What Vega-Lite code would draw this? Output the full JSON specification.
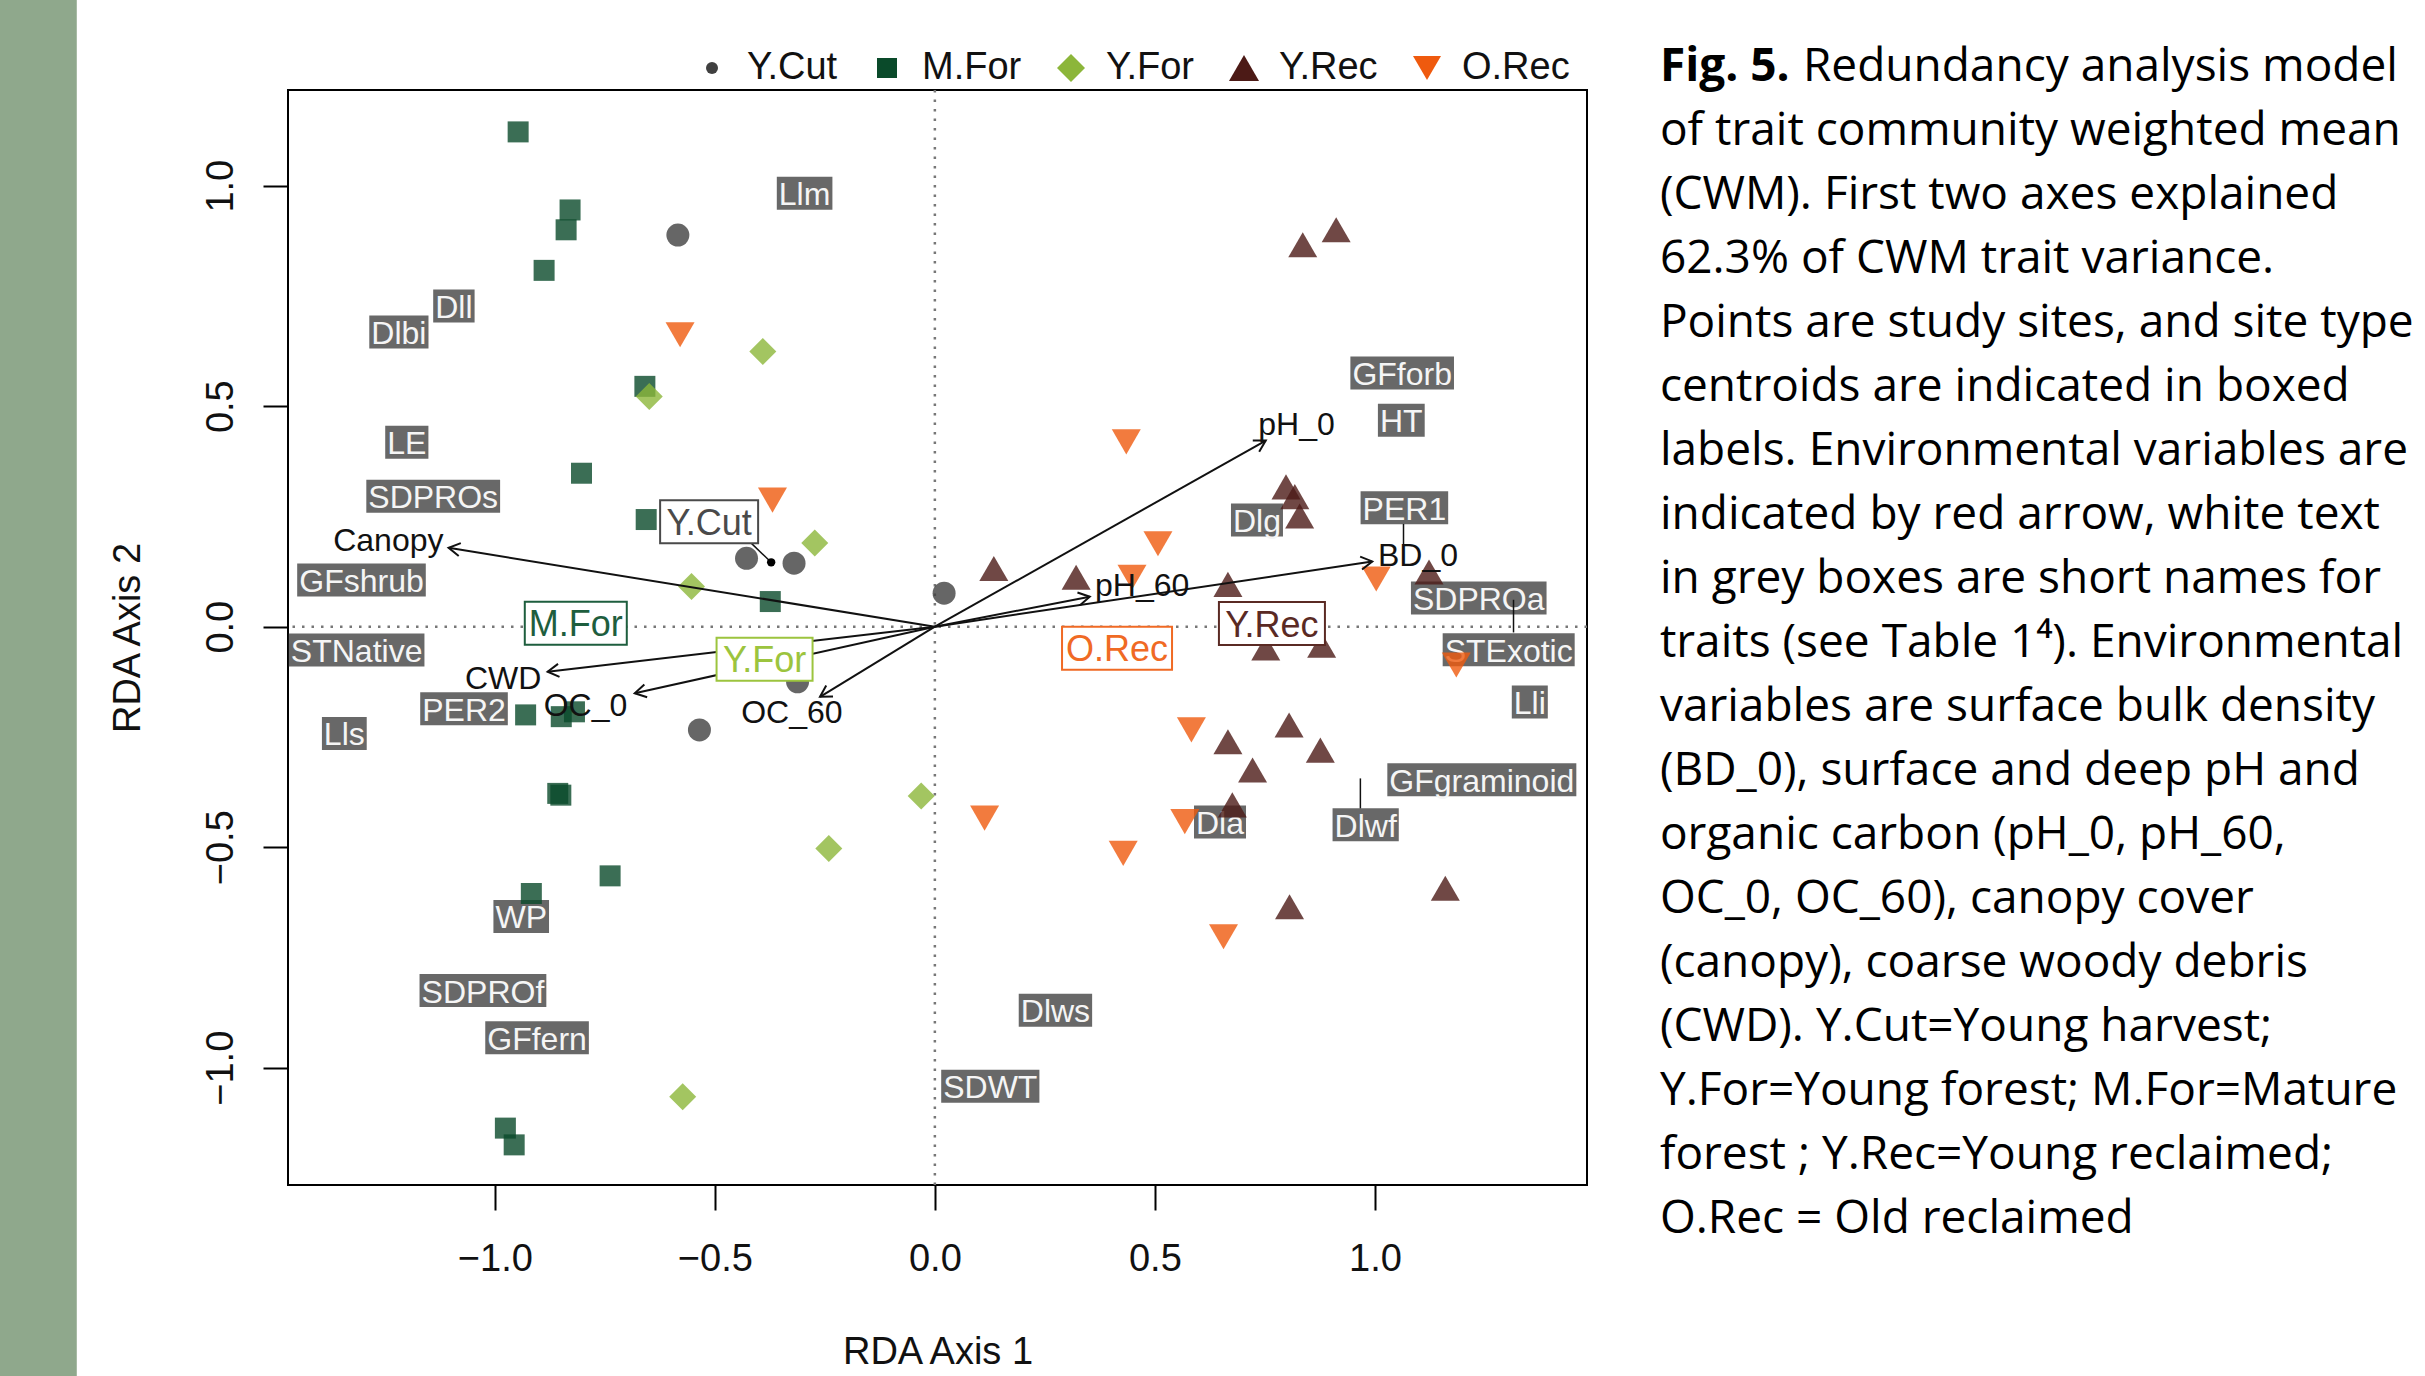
{
  "$schema": "https://vega.github.io/schema/vega-lite/v6.json",
  "width": 1299,
  "height": 1095,
  "autosize": {"type": "none"},
  "padding": {"left": 288, "top": 90, "right": 838, "bottom": 191},
  "background": "white",
  "config": {
    "view": {"stroke": "#000", "strokeWidth": 2},
    "font": "Liberation Sans",
    "axis": {
      "grid": false, "domain": false, "ticks": true, "tickSize": 25, "tickWidth": 2, "tickColor": "#000",
      "labelFont": "Liberation Sans", "labelFontSize": 38, "labelColor": "#111", "labelFlush": false, "labelOverlap": false,
      "titleFont": "Liberation Sans", "titleFontSize": 38, "titleFontWeight": "normal", "titleColor": "#111"
    }
  },
  "datasets": {
    "one": [{}],
    "sites": [
      {"g": "Y.Cut", "x": -0.584, "y": 0.888}, {"g": "Y.Cut", "x": -0.428, "y": 0.155}, {"g": "Y.Cut", "x": -0.320, "y": 0.144},
      {"g": "Y.Cut", "x": 0.021, "y": 0.076}, {"g": "Y.Cut", "x": -0.312, "y": -0.125}, {"g": "Y.Cut", "x": -0.535, "y": -0.234},
      {"g": "M.For", "x": -0.947, "y": 1.122}, {"g": "M.For", "x": -0.829, "y": 0.945}, {"g": "M.For", "x": -0.838, "y": 0.900},
      {"g": "M.For", "x": -0.888, "y": 0.808}, {"g": "M.For", "x": -0.659, "y": 0.545}, {"g": "M.For", "x": -0.803, "y": 0.348},
      {"g": "M.For", "x": -0.656, "y": 0.243}, {"g": "M.For", "x": -0.374, "y": 0.057}, {"g": "M.For", "x": -0.930, "y": -0.200},
      {"g": "M.For", "x": -0.849, "y": -0.204}, {"g": "M.For", "x": -0.819, "y": -0.193}, {"g": "M.For", "x": -0.857, "y": -0.378},
      {"g": "M.For", "x": -0.850, "y": -0.382}, {"g": "M.For", "x": -0.738, "y": -0.565}, {"g": "M.For", "x": -0.917, "y": -0.605},
      {"g": "M.For", "x": -0.976, "y": -1.137}, {"g": "M.For", "x": -0.956, "y": -1.175},
      {"g": "Y.For", "x": -0.391, "y": 0.624}, {"g": "Y.For", "x": -0.649, "y": 0.522}, {"g": "Y.For", "x": -0.273, "y": 0.190},
      {"g": "Y.For", "x": -0.553, "y": 0.091}, {"g": "Y.For", "x": -0.031, "y": -0.384}, {"g": "Y.For", "x": -0.241, "y": -0.503},
      {"g": "Y.For", "x": -0.573, "y": -1.066},
      {"g": "Y.Rec", "x": 0.836, "y": 0.866}, {"g": "Y.Rec", "x": 0.912, "y": 0.900}, {"g": "Y.Rec", "x": 0.798, "y": 0.317},
      {"g": "Y.Rec", "x": 0.818, "y": 0.295}, {"g": "Y.Rec", "x": 0.829, "y": 0.251}, {"g": "Y.Rec", "x": 0.134, "y": 0.132},
      {"g": "Y.Rec", "x": 0.321, "y": 0.112}, {"g": "Y.Rec", "x": 0.666, "y": 0.096}, {"g": "Y.Rec", "x": 1.123, "y": 0.124},
      {"g": "Y.Rec", "x": 0.752, "y": -0.048}, {"g": "Y.Rec", "x": 0.879, "y": -0.042}, {"g": "Y.Rec", "x": 0.805, "y": -0.223},
      {"g": "Y.Rec", "x": 0.666, "y": -0.261}, {"g": "Y.Rec", "x": 0.876, "y": -0.280}, {"g": "Y.Rec", "x": 0.722, "y": -0.325},
      {"g": "Y.Rec", "x": 0.676, "y": -0.404}, {"g": "Y.Rec", "x": 1.160, "y": -0.593}, {"g": "Y.Rec", "x": 0.806, "y": -0.635},
      {"g": "O.Rec", "x": -0.579, "y": 0.662}, {"g": "O.Rec", "x": -0.369, "y": 0.287}, {"g": "O.Rec", "x": 0.435, "y": 0.419},
      {"g": "O.Rec", "x": 0.507, "y": 0.188}, {"g": "O.Rec", "x": 0.448, "y": 0.112}, {"g": "O.Rec", "x": 1.003, "y": 0.108},
      {"g": "O.Rec", "x": 1.185, "y": -0.087}, {"g": "O.Rec", "x": 0.583, "y": -0.234}, {"g": "O.Rec", "x": 0.113, "y": -0.434},
      {"g": "O.Rec", "x": 0.568, "y": -0.442}, {"g": "O.Rec", "x": 0.428, "y": -0.514}, {"g": "O.Rec", "x": 0.656, "y": -0.703}
    ],
    "traits": [
      {"label": "Llm", "x": -0.296, "y": 0.983}, {"label": "Dll", "x": -1.093, "y": 0.727}, {"label": "Dlbi", "x": -1.218, "y": 0.668},
      {"label": "LE", "x": -1.200, "y": 0.418}, {"label": "SDPROs", "x": -1.140, "y": 0.296}, {"label": "GFshrub", "x": -1.303, "y": 0.106},
      {"label": "STNative", "x": -1.314, "y": -0.053}, {"label": "PER2", "x": -1.070, "y": -0.186}, {"label": "Lls", "x": -1.342, "y": -0.242},
      {"label": "WP", "x": -0.940, "y": -0.657}, {"label": "SDPROf", "x": -1.027, "y": -0.825}, {"label": "GFfern", "x": -0.904, "y": -0.932},
      {"label": "Dlws", "x": 0.274, "y": -0.870}, {"label": "SDWT", "x": 0.126, "y": -1.042}, {"label": "Dla", "x": 0.648, "y": -0.443},
      {"label": "Dlwf", "x": 0.979, "y": -0.449}, {"label": "GFgraminoid", "x": 1.243, "y": -0.347}, {"label": "Lli", "x": 1.352, "y": -0.171},
      {"label": "STExotic", "x": 1.304, "y": -0.052}, {"label": "SDPROa", "x": 1.236, "y": 0.065}, {"label": "PER1", "x": 1.067, "y": 0.270},
      {"label": "HT", "x": 1.060, "y": 0.468}, {"label": "GFforb", "x": 1.062, "y": 0.575}, {"label": "Dlg", "x": 0.732, "y": 0.242}
    ],
    "env": [
      {"var": "Canopy", "x": -1.105, "y": 0.179}, {"var": "CWD", "x": -0.880, "y": -0.102}, {"var": "OC_0", "x": -0.682, "y": -0.151},
      {"var": "OC_60", "x": -0.261, "y": -0.159}, {"var": "pH_0", "x": 0.752, "y": 0.422}, {"var": "pH_60", "x": 0.352, "y": 0.068},
      {"var": "BD_0", "x": 0.994, "y": 0.148}
    ],
    "envlab": [
      {"var": "Canopy", "x": -1.242, "y": 0.199}, {"var": "CWD", "x": -0.981, "y": -0.115}, {"var": "OC_0", "x": -0.794, "y": -0.176},
      {"var": "OC_60", "x": -0.325, "y": -0.192}, {"var": "pH_0", "x": 0.822, "y": 0.461}, {"var": "pH_60", "x": 0.471, "y": 0.096},
      {"var": "BD_0", "x": 1.098, "y": 0.164}
    ],
    "cent": [
      {"g": "Y.Cut", "x": -0.513, "y": 0.238}, {"g": "M.For", "x": -0.816, "y": 0.008}, {"g": "Y.For", "x": -0.387, "y": -0.074},
      {"g": "Y.Rec", "x": 0.766, "y": 0.007}, {"g": "O.Rec", "x": 0.414, "y": -0.049}
    ],
    "ycutdot": [{"x": -0.372, "y": 0.146}],
    "leaders": [
      {"x": -0.418, "y": 0.190, "x2": -0.372, "y2": 0.146},
      {"x": 1.065, "y": 0.233, "x2": 1.065, "y2": 0.186},
      {"x": 1.315, "y": 0.061, "x2": 1.315, "y2": -0.013},
      {"x": 0.967, "y": -0.344, "x2": 0.967, "y2": -0.412}
    ]
  },
  "layer": [
    {
      "data": {"name": "one"},
      "mark": {"type": "rect", "color": "#8fa88c"},
      "encoding": {
        "x": {"datum": -2.3, "type": "quantitative", "scale": {"domain": [-1.47, 1.482], "nice": false, "zero": false}, "axis": {"title": "RDA Axis 1", "values": [-1, -0.5, 0, 0.5, 1], "format": ".1f", "labelPadding": 30, "titlePadding": 55}},
        "x2": {"datum": -1.95},
        "y": {"datum": 1.6, "type": "quantitative", "scale": {"domain": [-1.266, 1.217], "nice": false, "zero": false}, "axis": {"title": "RDA Axis 2", "values": [-1, -0.5, 0, 0.5, 1], "format": ".1f", "labelAngle": 270, "labelAlign": "center", "labelBaseline": "bottom", "labelPadding": 23, "titlePadding": 55}},
        "y2": {"datum": -1.9}
      }
    },
    {
      "data": {"name": "one"},
      "mark": {"type": "rule", "color": "#777", "strokeWidth": 2.5, "strokeDash": [2.5, 7]},
      "encoding": {
        "x": {"datum": 0, "type": "quantitative", "scale": {"domain": [-1.47, 1.482], "nice": false, "zero": false}, "axis": {"title": "RDA Axis 1", "values": [-1, -0.5, 0, 0.5, 1], "format": ".1f", "labelPadding": 30, "titlePadding": 55}}
      }
    },
    {
      "data": {"name": "one"},
      "mark": {"type": "rule", "color": "#777", "strokeWidth": 2.5, "strokeDash": [2.5, 7]},
      "encoding": {
        "y": {"datum": 0, "type": "quantitative", "scale": {"domain": [-1.266, 1.217], "nice": false, "zero": false}, "axis": {"title": "RDA Axis 2", "values": [-1, -0.5, 0, 0.5, 1], "format": ".1f", "labelAngle": 270, "labelAlign": "center", "labelBaseline": "bottom", "labelPadding": 23, "titlePadding": 55}}
      }
    },
    {
      "data": {"name": "traits"},
      "mark": {"type": "point", "filled": true, "opacity": 1, "size": 4, "color": "#686868", "strokeWidth": 0},
      "encoding": {
        "x": {"field": "x", "type": "quantitative", "scale": {"domain": [-1.47, 1.482], "nice": false, "zero": false}, "axis": {"title": "RDA Axis 1", "values": [-1, -0.5, 0, 0.5, 1], "format": ".1f", "labelPadding": 30, "titlePadding": 55}},
        "y": {"field": "y", "type": "quantitative", "scale": {"domain": [-1.266, 1.217], "nice": false, "zero": false}, "axis": {"title": "RDA Axis 2", "values": [-1, -0.5, 0, 0.5, 1], "format": ".1f", "labelAngle": 270, "labelAlign": "center", "labelBaseline": "bottom", "labelPadding": 23, "titlePadding": 55}},
        "shape": {
          "field": "label", "type": "nominal", "legend": null,
          "scale": {
            "domain": ["Llm", "Dll", "Dlbi", "LE", "SDPROs", "GFshrub", "STNative", "PER2", "Lls", "WP", "SDPROf", "GFfern", "Dlws", "SDWT", "Dla", "Dlwf", "GFgraminoid", "Lli", "STExotic", "SDPROa", "PER1", "HT", "GFforb", "Dlg"],
            "range": [
              "M-27.8,-16.5H27.8V16.5H-27.8Z", "M-20.7,-16.5H20.7V16.5H-20.7Z", "M-29.6,-16.5H29.6V16.5H-29.6Z", "M-21.6,-16.5H21.6V16.5H-21.6Z",
              "M-66.9,-16.5H66.9V16.5H-66.9Z", "M-64.3,-16.5H64.3V16.5H-64.3Z", "M-67.8,-16.5H67.8V16.5H-67.8Z", "M-43.8,-16.5H43.8V16.5H-43.8Z",
              "M-22.4,-16.5H22.4V16.5H-22.4Z", "M-27.8,-16.5H27.8V16.5H-27.8Z", "M-63.4,-16.5H63.4V16.5H-63.4Z", "M-51.8,-16.5H51.8V16.5H-51.8Z",
              "M-36.7,-16.5H36.7V16.5H-36.7Z", "M-49.1,-16.5H49.1V16.5H-49.1Z", "M-26,-16.5H26V16.5H-26Z", "M-33.1,-16.5H33.1V16.5H-33.1Z",
              "M-94.5,-16.5H94.5V16.5H-94.5Z", "M-18,-16.5H18V16.5H-18Z", "M-66,-16.5H66V16.5H-66Z", "M-67.8,-16.5H67.8V16.5H-67.8Z",
              "M-43.8,-16.5H43.8V16.5H-43.8Z", "M-23.4,-16.5H23.4V16.5H-23.4Z", "M-51.8,-16.5H51.8V16.5H-51.8Z", "M-26,-16.5H26V16.5H-26Z"
            ]
          }
        }
      }
    },
    {
      "data": {"name": "traits"},
      "mark": {"type": "text", "font": "Liberation Sans", "fontSize": 32, "color": "#f5f5f5", "align": "center", "baseline": "middle", "dy": 2},
      "encoding": {
        "x": {"field": "x", "type": "quantitative", "scale": {"domain": [-1.47, 1.482], "nice": false, "zero": false}, "axis": {"title": "RDA Axis 1", "values": [-1, -0.5, 0, 0.5, 1], "format": ".1f", "labelPadding": 30, "titlePadding": 55}},
        "y": {"field": "y", "type": "quantitative", "scale": {"domain": [-1.266, 1.217], "nice": false, "zero": false}, "axis": {"title": "RDA Axis 2", "values": [-1, -0.5, 0, 0.5, 1], "format": ".1f", "labelAngle": 270, "labelAlign": "center", "labelBaseline": "bottom", "labelPadding": 23, "titlePadding": 55}},
        "text": {"field": "label", "type": "nominal"}
      }
    },
    {
      "data": {"name": "leaders"},
      "mark": {"type": "rule", "color": "#111", "strokeWidth": 1.5},
      "encoding": {
        "x": {"field": "x", "type": "quantitative", "scale": {"domain": [-1.47, 1.482], "nice": false, "zero": false}, "axis": {"title": "RDA Axis 1", "values": [-1, -0.5, 0, 0.5, 1], "format": ".1f", "labelPadding": 30, "titlePadding": 55}},
        "y": {"field": "y", "type": "quantitative", "scale": {"domain": [-1.266, 1.217], "nice": false, "zero": false}, "axis": {"title": "RDA Axis 2", "values": [-1, -0.5, 0, 0.5, 1], "format": ".1f", "labelAngle": 270, "labelAlign": "center", "labelBaseline": "bottom", "labelPadding": 23, "titlePadding": 55}},
        "x2": {"field": "x2"},
        "y2": {"field": "y2"}
      }
    },
    {
      "data": {"name": "sites"},
      "mark": {"type": "point", "filled": true, "opacity": 0.8, "strokeWidth": 0},
      "encoding": {
        "x": {"field": "x", "type": "quantitative", "scale": {"domain": [-1.47, 1.482], "nice": false, "zero": false}, "axis": {"title": "RDA Axis 1", "values": [-1, -0.5, 0, 0.5, 1], "format": ".1f", "labelPadding": 30, "titlePadding": 55}},
        "y": {"field": "y", "type": "quantitative", "scale": {"domain": [-1.266, 1.217], "nice": false, "zero": false}, "axis": {"title": "RDA Axis 2", "values": [-1, -0.5, 0, 0.5, 1], "format": ".1f", "labelAngle": 270, "labelAlign": "center", "labelBaseline": "bottom", "labelPadding": 23, "titlePadding": 55}},
        "color": {"field": "g", "type": "nominal", "legend": null, "scale": {"domain": ["Y.Cut", "M.For", "Y.For", "Y.Rec", "O.Rec"], "range": ["#404040", "#0a4a2a", "#8cb63a", "#4c1a16", "#ef5a0e"]}},
        "shape": {"field": "g", "type": "nominal", "legend": null, "scale": {"domain": ["Y.Cut", "M.For", "Y.For", "Y.Rec", "O.Rec"], "range": ["circle", "square", "diamond", "triangle-up", "triangle-down"]}},
        "size": {"field": "g", "type": "nominal", "legend": null, "scale": {"type": "ordinal", "domain": ["Y.Cut", "M.For", "Y.For", "Y.Rec", "O.Rec"], "range": [529, 441, 729, 841, 841]}}
      }
    },
    {
      "data": {"name": "ycutdot"},
      "mark": {"type": "point", "filled": true, "color": "#000", "size": 70, "opacity": 1, "strokeWidth": 0},
      "encoding": {
        "x": {"field": "x", "type": "quantitative", "scale": {"domain": [-1.47, 1.482], "nice": false, "zero": false}, "axis": {"title": "RDA Axis 1", "values": [-1, -0.5, 0, 0.5, 1], "format": ".1f", "labelPadding": 30, "titlePadding": 55}},
        "y": {"field": "y", "type": "quantitative", "scale": {"domain": [-1.266, 1.217], "nice": false, "zero": false}, "axis": {"title": "RDA Axis 2", "values": [-1, -0.5, 0, 0.5, 1], "format": ".1f", "labelAngle": 270, "labelAlign": "center", "labelBaseline": "bottom", "labelPadding": 23, "titlePadding": 55}}
      }
    },
    {
      "data": {"name": "env"},
      "mark": {"type": "rule", "color": "#111", "strokeWidth": 2},
      "encoding": {
        "x": {"field": "x", "type": "quantitative", "scale": {"domain": [-1.47, 1.482], "nice": false, "zero": false}, "axis": {"title": "RDA Axis 1", "values": [-1, -0.5, 0, 0.5, 1], "format": ".1f", "labelPadding": 30, "titlePadding": 55}},
        "y": {"field": "y", "type": "quantitative", "scale": {"domain": [-1.266, 1.217], "nice": false, "zero": false}, "axis": {"title": "RDA Axis 2", "values": [-1, -0.5, 0, 0.5, 1], "format": ".1f", "labelAngle": 270, "labelAlign": "center", "labelBaseline": "bottom", "labelPadding": 23, "titlePadding": 55}},
        "x2": {"datum": 0},
        "y2": {"datum": 0}
      }
    },
    {
      "data": {"name": "env"},
      "mark": {"type": "point", "filled": false, "size": 4, "color": "#111", "strokeWidth": 2, "opacity": 1},
      "encoding": {
        "x": {"field": "x", "type": "quantitative", "scale": {"domain": [-1.47, 1.482], "nice": false, "zero": false}, "axis": {"title": "RDA Axis 1", "values": [-1, -0.5, 0, 0.5, 1], "format": ".1f", "labelPadding": 30, "titlePadding": 55}},
        "y": {"field": "y", "type": "quantitative", "scale": {"domain": [-1.266, 1.217], "nice": false, "zero": false}, "axis": {"title": "RDA Axis 2", "values": [-1, -0.5, 0, 0.5, 1], "format": ".1f", "labelAngle": 270, "labelAlign": "center", "labelBaseline": "bottom", "labelPadding": 23, "titlePadding": 55}},
        "shape": {
          "field": "var", "type": "nominal", "legend": null,
          "scale": {
            "domain": ["Canopy", "CWD", "OC_0", "OC_60", "pH_0", "pH_60", "BD_0"],
            "range": ["M10.1,8.2L0,0L12.2,-4.6", "M11.9,5.2L0,0L10.4,-7.8", "M12.4,3.9L0,0L9.6,-8.8", "M13,-0.3L0,0L6.2,-11.4", "M-13,-0.1L0,0L-6.6,11.2", "M-12.3,-4.2L0,0L-9.8,8.5", "M-12.1,-4.8L0,0L-10.2,8.1"]
          }
        }
      }
    },
    {
      "data": {"name": "envlab"},
      "mark": {"type": "text", "font": "Liberation Sans", "fontSize": 32, "color": "#111", "align": "center", "baseline": "middle", "dy": 2},
      "encoding": {
        "x": {"field": "x", "type": "quantitative", "scale": {"domain": [-1.47, 1.482], "nice": false, "zero": false}, "axis": {"title": "RDA Axis 1", "values": [-1, -0.5, 0, 0.5, 1], "format": ".1f", "labelPadding": 30, "titlePadding": 55}},
        "y": {"field": "y", "type": "quantitative", "scale": {"domain": [-1.266, 1.217], "nice": false, "zero": false}, "axis": {"title": "RDA Axis 2", "values": [-1, -0.5, 0, 0.5, 1], "format": ".1f", "labelAngle": 270, "labelAlign": "center", "labelBaseline": "bottom", "labelPadding": 23, "titlePadding": 55}},
        "text": {"field": "var", "type": "nominal"}
      }
    },
    {
      "data": {"name": "cent"},
      "mark": {"type": "point", "filled": true, "fill": "white", "size": 4, "strokeWidth": 2, "opacity": 1},
      "encoding": {
        "x": {"field": "x", "type": "quantitative", "scale": {"domain": [-1.47, 1.482], "nice": false, "zero": false}, "axis": {"title": "RDA Axis 1", "values": [-1, -0.5, 0, 0.5, 1], "format": ".1f", "labelPadding": 30, "titlePadding": 55}},
        "y": {"field": "y", "type": "quantitative", "scale": {"domain": [-1.266, 1.217], "nice": false, "zero": false}, "axis": {"title": "RDA Axis 2", "values": [-1, -0.5, 0, 0.5, 1], "format": ".1f", "labelAngle": 270, "labelAlign": "center", "labelBaseline": "bottom", "labelPadding": 23, "titlePadding": 55}},
        "shape": {"field": "g", "type": "nominal", "legend": null, "scale": {"domain": ["Y.Cut", "M.For", "Y.For", "Y.Rec", "O.Rec"], "range": ["M-49,-21.5H49V21.5H-49Z", "M-51,-21.5H51V21.5H-51Z", "M-48,-21.5H48V21.5H-48Z", "M-53,-21.5H53V21.5H-53Z", "M-55,-21.5H55V21.5H-55Z"]}},
        "stroke": {"field": "g", "type": "nominal", "legend": null, "scale": {"domain": ["Y.Cut", "M.For", "Y.For", "Y.Rec", "O.Rec"], "range": ["#4a4a4a", "#1e5e3e", "#9cc43e", "#5a2a24", "#f06a24"]}}
      }
    },
    {
      "data": {"name": "cent"},
      "mark": {"type": "text", "font": "Liberation Sans", "fontSize": 36, "align": "center", "baseline": "middle", "dy": 2},
      "encoding": {
        "x": {"field": "x", "type": "quantitative", "scale": {"domain": [-1.47, 1.482], "nice": false, "zero": false}, "axis": {"title": "RDA Axis 1", "values": [-1, -0.5, 0, 0.5, 1], "format": ".1f", "labelPadding": 30, "titlePadding": 55}},
        "y": {"field": "y", "type": "quantitative", "scale": {"domain": [-1.266, 1.217], "nice": false, "zero": false}, "axis": {"title": "RDA Axis 2", "values": [-1, -0.5, 0, 0.5, 1], "format": ".1f", "labelAngle": 270, "labelAlign": "center", "labelBaseline": "bottom", "labelPadding": 23, "titlePadding": 55}},
        "text": {"field": "g", "type": "nominal"},
        "color": {"field": "g", "type": "nominal", "legend": null, "scale": {"domain": ["Y.Cut", "M.For", "Y.For", "Y.Rec", "O.Rec"], "range": ["#4a4a4a", "#1e5e3e", "#9cc43e", "#5a2a24", "#f06a24"]}}
      }
    },
    {
      "data": {"values": []},
      "mark": {"type": "point", "filled": true, "opacity": 1, "strokeWidth": 0},
      "encoding": {
        "x": {"field": "x", "type": "quantitative", "scale": {"domain": [-1.47, 1.482], "nice": false, "zero": false}, "axis": {"title": "RDA Axis 1", "values": [-1, -0.5, 0, 0.5, 1], "format": ".1f", "labelPadding": 30, "titlePadding": 55}},
        "y": {"field": "y", "type": "quantitative", "scale": {"domain": [-1.266, 1.217], "nice": false, "zero": false}, "axis": {"title": "RDA Axis 2", "values": [-1, -0.5, 0, 0.5, 1], "format": ".1f", "labelAngle": 270, "labelAlign": "center", "labelBaseline": "bottom", "labelPadding": 23, "titlePadding": 55}},
        "color": {"field": "g", "type": "nominal", "scale": {"domain": ["Y.Cut", "M.For", "Y.For", "Y.Rec", "O.Rec"], "range": ["#404040", "#0a4a2a", "#8cb63a", "#4c1a16", "#ef5a0e"]},
          "legend": {"title": null, "orient": "none", "legendX": 405, "legendY": -41, "direction": "horizontal", "labelFont": "Liberation Sans", "labelFontSize": 38, "labelColor": "#111", "labelOffset": 16, "columnPadding": 30, "symbolStrokeWidth": 0, "padding": 0, "symbolOpacity": 1}},
        "shape": {"field": "g", "type": "nominal", "scale": {"domain": ["Y.Cut", "M.For", "Y.For", "Y.Rec", "O.Rec"], "range": ["circle", "square", "diamond", "triangle-up", "triangle-down"]},
          "legend": {"title": null, "orient": "none", "legendX": 405, "legendY": -41, "direction": "horizontal", "labelFont": "Liberation Sans", "labelFontSize": 38, "labelColor": "#111", "labelOffset": 16, "columnPadding": 30, "symbolStrokeWidth": 0, "padding": 0, "symbolOpacity": 1}},
        "size": {"field": "g", "type": "nominal", "scale": {"type": "ordinal", "domain": ["Y.Cut", "M.For", "Y.For", "Y.Rec", "O.Rec"], "range": [144, 400, 784, 900, 784]},
          "legend": {"title": null, "orient": "none", "legendX": 405, "legendY": -41, "direction": "horizontal", "labelFont": "Liberation Sans", "labelFontSize": 38, "labelColor": "#111", "labelOffset": 16, "columnPadding": 30, "symbolStrokeWidth": 0, "padding": 0, "symbolOpacity": 1}}
      }
    },
    {
      "data": {"name": "one"},
      "mark": {"type": "text", "text": "Fig. 5.", "font": "Open Sans", "fontSize": 46, "fontWeight": "bold", "color": "#000", "align": "left", "baseline": "alphabetic"},
      "encoding": {
        "x": {"datum": 1.6477, "type": "quantitative", "scale": {"domain": [-1.47, 1.482], "nice": false, "zero": false}, "axis": {"title": "RDA Axis 1", "values": [-1, -0.5, 0, 0.5, 1], "format": ".1f", "labelPadding": 30, "titlePadding": 55}},
        "y": {"datum": 1.2374, "type": "quantitative", "scale": {"domain": [-1.266, 1.217], "nice": false, "zero": false}, "axis": {"title": "RDA Axis 2", "values": [-1, -0.5, 0, 0.5, 1], "format": ".1f", "labelAngle": 270, "labelAlign": "center", "labelBaseline": "bottom", "labelPadding": 23, "titlePadding": 55}}
      }
    },
    {
      "data": {"name": "one"},
      "mark": {"type": "text", "text": "Redundancy analysis model", "font": "Open Sans", "fontSize": 46, "color": "#000", "align": "left", "baseline": "alphabetic"},
      "encoding": {
        "x": {"datum": 1.9727, "type": "quantitative", "scale": {"domain": [-1.47, 1.482], "nice": false, "zero": false}, "axis": {"title": "RDA Axis 1", "values": [-1, -0.5, 0, 0.5, 1], "format": ".1f", "labelPadding": 30, "titlePadding": 55}},
        "y": {"datum": 1.2374, "type": "quantitative", "scale": {"domain": [-1.266, 1.217], "nice": false, "zero": false}, "axis": {"title": "RDA Axis 2", "values": [-1, -0.5, 0, 0.5, 1], "format": ".1f", "labelAngle": 270, "labelAlign": "center", "labelBaseline": "bottom", "labelPadding": 23, "titlePadding": 55}}
      }
    },
    {
      "data": {"name": "one"},
      "mark": {
        "type": "text", "font": "Open Sans", "fontSize": 46, "color": "#000", "align": "left", "baseline": "alphabetic", "lineHeight": 64,
        "text": [
          "of trait community weighted mean",
          "(CWM). First two axes explained",
          "62.3% of CWM trait variance.",
          "Points are study sites, and site type",
          "centroids are indicated in boxed",
          "labels. Environmental variables are",
          "indicated by red arrow, white text",
          "in grey boxes are short names for",
          "traits (see Table 1⁴). Environmental",
          "variables are surface bulk density",
          "(BD_0), surface and deep pH and",
          "organic carbon (pH_0, pH_60,",
          "OC_0, OC_60), canopy cover",
          "(canopy), coarse woody debris",
          "(CWD). Y.Cut=Young harvest;",
          "Y.For=Young forest; M.For=Mature",
          "forest ; Y.Rec=Young reclaimed;",
          "O.Rec = Old reclaimed"
        ]
      },
      "encoding": {
        "x": {"datum": 1.6477, "type": "quantitative", "scale": {"domain": [-1.47, 1.482], "nice": false, "zero": false}, "axis": {"title": "RDA Axis 1", "values": [-1, -0.5, 0, 0.5, 1], "format": ".1f", "labelPadding": 30, "titlePadding": 55}},
        "y": {"datum": 1.0923, "type": "quantitative", "scale": {"domain": [-1.266, 1.217], "nice": false, "zero": false}, "axis": {"title": "RDA Axis 2", "values": [-1, -0.5, 0, 0.5, 1], "format": ".1f", "labelAngle": 270, "labelAlign": "center", "labelBaseline": "bottom", "labelPadding": 23, "titlePadding": 55}}
      }
    }
  ],
  "resolve": {"scale": {"color": "independent", "shape": "independent", "size": "independent", "stroke": "independent"}}
}
